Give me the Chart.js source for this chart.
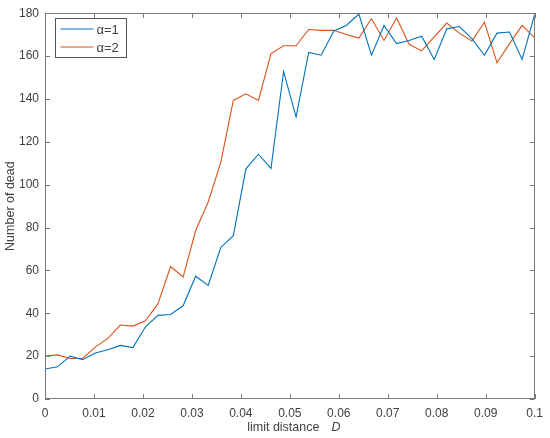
<!DOCTYPE html>
<html>
<head>
<meta charset="utf-8">
<script src="https://cdn.jsdelivr.net/npm/chart.js@4/dist/chart.umd.min.js"></script>
<style>
  html, body { margin: 0; padding: 0; background: #fff; }
  #wrap { width: 550px; height: 438px; }
</style>
</head>
<body>
<div id="wrap"><canvas id="c" width="550" height="438"></canvas></div>
<script>
// 40 points: linspace(0, 0.1, 40)
const N = 40;
const xValues = Array.from({length: N}, (_, k) => +(k * 0.1 / (N - 1)).toFixed(6));
const alpha1 = [14, 15, 20, 18.3, 21.5, 23, 25, 24, 33.7, 39,
                39.4, 43.5, 57.3, 53, 70.7, 76.2, 107.4, 114.2, 107.6, 152.7,
                131.6, 161.7, 160.4, 171.7, 174.3, 179.6, 160.4, 174.3, 165.8, 167.3,
                169.3, 158.4, 172.7, 173.8, 168.1, 160.4, 170.7, 171.2, 158.4, 179.4];
const alpha2 = [20, 20.6, 18.9, 18.9, 24.2, 28.3, 34.5, 34, 36.5, 44.5,
                61.8, 56.9, 78.6, 91.9, 110.4, 139.3, 142.4, 139.3, 161.2, 164.8,
                164.8, 172.4, 172, 172, 170.1, 168.4, 177.4, 167.3, 177.8, 165.5,
                162.4, 168.9, 175.4, 170.7, 167, 175.8, 156.9, 165.8, 174.3, 168.5];
const seriesLabels = ['α=1', 'α=2'];
const xTicks = [0, 0.01, 0.02, 0.03, 0.04, 0.05, 0.06, 0.07, 0.08, 0.09, 0.1];
const yTicks = [0, 20, 40, 60, 80, 100, 120, 140, 160, 180];
const xTitle = 'limit distance';
const xTitleVar = 'D';
const yTitle = 'Number of dead';

const FONT = '"Liberation Sans", Arial, Helvetica, sans-serif';
const AXIS = '#7a7a7a';
const TXT = '#404040';

const boxPlugin = {
  id: 'boxPlugin',
  afterDraw(chart) {
    const ctx = chart.ctx;
    const a = chart.chartArea;
    const xs = chart.scales.x, ys = chart.scales.y;
    ctx.save();
    ctx.strokeStyle = AXIS;
    ctx.lineWidth = 1;
    // box
    ctx.strokeRect(Math.round(a.left) + 0.5, Math.round(a.top) + 0.5,
                   Math.round(a.right - a.left) - 1, Math.round(a.bottom - a.top) - 1);
    // inward ticks
    const tl = 5;
    ctx.beginPath();
    xTicks.forEach(v => {
      const px = Math.round(xs.getPixelForValue(v)) + 0.5;
      ctx.moveTo(px, a.bottom); ctx.lineTo(px, a.bottom - tl);
      ctx.moveTo(px, a.top); ctx.lineTo(px, a.top + tl);
    });
    yTicks.forEach(v => {
      const py = Math.round(ys.getPixelForValue(v)) + 0.5;
      ctx.moveTo(a.left, py); ctx.lineTo(a.left + tl, py);
      ctx.moveTo(a.right, py); ctx.lineTo(a.right - tl, py);
    });
    ctx.stroke();

    // axis titles
    ctx.fillStyle = TXT;
    ctx.font = '12.5px ' + FONT;
    ctx.textBaseline = 'middle';
    const w1 = ctx.measureText(xTitle).width;
    ctx.font = 'italic 12.5px ' + FONT;
    const w2 = ctx.measureText(xTitleVar).width;
    const gap = 12;
    const total = w1 + gap + w2;
    const cx = (a.left + a.right) / 2 + 4;
    let sx = cx - total / 2;
    ctx.font = '12.5px ' + FONT;
    ctx.textAlign = 'left';
    ctx.fillText(xTitle, sx, 428);
    ctx.font = 'italic 12.5px ' + FONT;
    ctx.fillText(xTitleVar, sx + w1 + gap, 428);

    ctx.save();
    ctx.translate(11, (a.top + a.bottom) / 2);
    ctx.rotate(-Math.PI / 2);
    ctx.font = '12.5px ' + FONT;
    ctx.textAlign = 'center';
    ctx.fillText(yTitle, 0, 0);
    ctx.restore();

    // legend
    const lx = 55.5, ly = 18.5, lw = 71, lh = 39;
    ctx.fillStyle = '#fff';
    ctx.fillRect(lx, ly, lw, lh);
    ctx.strokeStyle = '#555';
    ctx.strokeRect(lx, ly, lw, lh);
    chart.data.datasets.forEach((ds, i) => {
      const yy = ly + 10.5 + i * 18;
      ctx.strokeStyle = ds.borderColor;
      ctx.lineWidth = 1;
      ctx.beginPath();
      ctx.moveTo(lx + 5, yy); ctx.lineTo(lx + 38, yy);
      ctx.stroke();
      ctx.fillStyle = TXT;
      ctx.font = '13px ' + FONT;
      ctx.textAlign = 'left';
      ctx.textBaseline = 'middle';
      ctx.fillText(ds.label, lx + 41, yy + 1);
    });
    ctx.restore();
  }
};

new Chart(document.getElementById('c'), {
  type: 'line',
  data: {
    datasets: [
      { label: seriesLabels[0], data: xValues.map((x, i) => ({x, y: alpha1[i]})),
        borderColor: '#0072BD', borderWidth: 1.1, pointRadius: 0, tension: 0, fill: false },
      { label: seriesLabels[1], data: xValues.map((x, i) => ({x, y: alpha2[i]})),
        borderColor: '#D95319', borderWidth: 1.1, pointRadius: 0, tension: 0, fill: false }
    ]
  },
  options: {
    responsive: false,
    animation: false,
    devicePixelRatio: 1,
    layout: { padding: { top: 9, right: 12, left: 0, bottom: 0 } },
    plugins: { legend: { display: false }, tooltip: { enabled: false } },
    scales: {
      x: {
        type: 'linear', min: 0, max: 0.1,
        afterBuildTicks: s => { s.ticks = xTicks.map(v => ({value: v})); },
        afterFit: s => { s.height = 39; },
        grid: { display: false, drawTicks: false },
        border: { display: false },
        ticks: { color: TXT, font: { family: FONT, size: 12 }, padding: 7, maxRotation: 0,
                 callback: v => String(+v.toFixed(2)) }
      },
      y: {
        type: 'linear', min: 0, max: 180,
        afterBuildTicks: s => { s.ticks = yTicks.map(v => ({value: v})); },
        afterFit: s => { s.width = 45; },
        grid: { display: false, drawTicks: false },
        border: { display: false },
        ticks: { color: TXT, font: { family: FONT, size: 12 }, padding: 6 }
      }
    }
  },
  plugins: [boxPlugin]
});
</script>
</body>
</html>
